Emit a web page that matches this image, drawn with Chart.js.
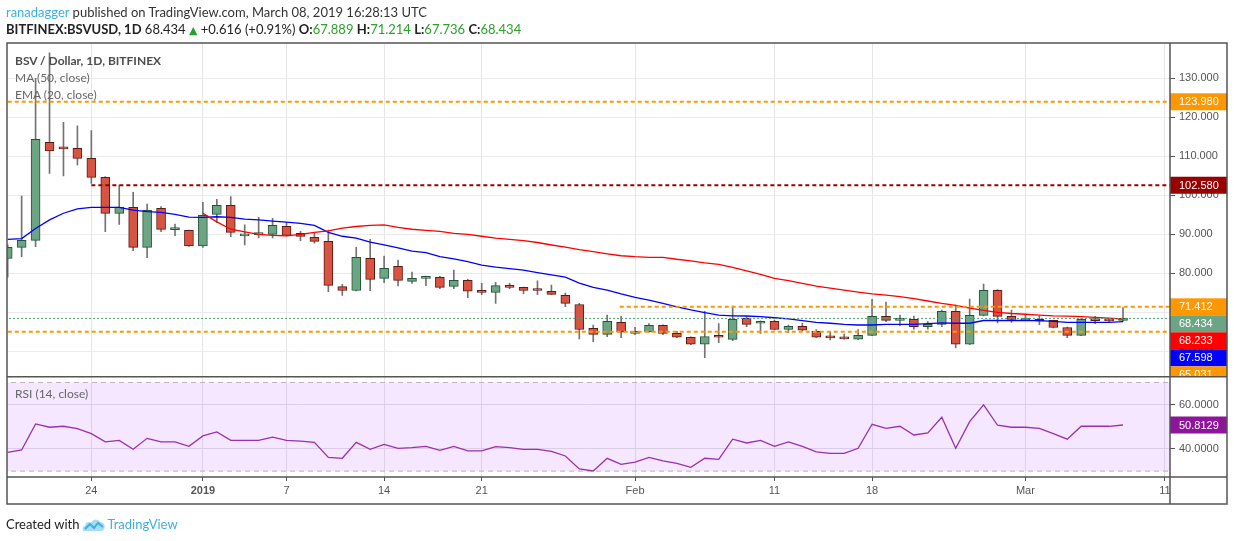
<!DOCTYPE html>
<html>
<head>
<meta charset="utf-8">
<title>BSV / Dollar, 1D, BITFINEX</title>
<script src="https://cdn.jsdelivr.net/npm/chart.js@4.4.1/dist/chart.umd.min.js"></script>
<style>
  html, body { margin: 0; padding: 0; background: #fff; }
  #wrap { position: relative; width: 1234px; height: 541px; overflow: hidden; font-family: Lato, "Liberation Sans", sans-serif; color: #333; }
  #chart { position: absolute; left: 0; top: 0; }
  .txt { position: absolute; white-space: nowrap; line-height: 1; }
  #h1 { left: 6px; top: 6px; font-size: 13px; color: #333; }
  #h1 .author { color: #3cb0e2; }
  #h2 { left: 6px; top: 23px; font-size: 13px; color: #222; }
  #h2 b { font-weight: bold; }
  #h2 .up { color: #2ca02c; }
  #h2 .tri { font-family: "DejaVu Sans", sans-serif; font-size: 11px; }
  .legend { left: 15px; font-size: 12px; color: #666; }
  .legend b { color: #4d4d4d; }
  #made { left: 6px; top: 517px; font-size: 13px; color: #222; }
  #made .tv { color: #3cb0e2; }
  #made svg { vertical-align: -4px; margin: 0 1px 0 3px; }
</style>
</head>
<body>
<div id="wrap">
  <canvas id="chart" width="1234" height="541"></canvas>
  <div class="txt" id="h1"><span class="author">ranadagger</span> published on TradingView.com, March 08, 2019 16:28:13 UTC</div>
  <div class="txt" id="h2"></div>
  <div class="txt legend" style="top:55px"><b>BSV / Dollar, 1D, BITFINEX</b></div>
  <div class="txt legend" style="top:72px">MA (50, close)</div>
  <div class="txt legend" style="top:89px">EMA (20, close)</div>
  <div class="txt legend" style="top:388px">RSI (14, close)</div>
  <div class="txt" id="made">Created with<svg width="24" height="16" viewBox="0 0 24 16"><path d="M2 14 C0 14 0 9 3 9 C3 5 7 4 9 6 C10 2 16 1 18 5 C22 5 24 9 22 12 C21 14 20 14 19 14 Z" fill="#a9dcf3"/><path d="M3 12 L8 7 L12 11 L16 6 L21 10" stroke="#3cb0e2" stroke-width="2" fill="none"/></svg><span class="tv">TradingView</span></div>
</div>
<script>
// BITFINEX:BSVUSD daily candles, index 0 = 2018-12-18 ... index 80 = 2019-03-08
const opens = [
  83.84, 86.66, 88.45, 113.58, 112.2, 112.04, 109.48, 104.6, 95.37, 96.9,
  86.66, 96.66, 91.2, 91.02, 87.0, 95.1, 97.42, 89.6, 89.9, 90.0,
  92.04, 90.25, 89.2, 88.2, 76.6, 75.6, 83.84, 78.7, 81.8, 77.94,
  78.7, 79.0, 76.66, 78.2, 75.3, 75.1, 76.9, 76.4, 75.9, 75.4,
  74.35, 72.0, 65.9, 64.35, 67.43, 64.6, 65.0, 66.66, 64.6, 63.6,
  61.8, 63.8, 63.07, 68.45, 67.2, 67.7, 65.6, 66.4, 65.1, 63.6,
  63.35, 63.1, 64.1, 69.0, 67.94, 68.2, 66.3, 66.9, 70.25, 61.8,
  69.22, 75.63, 68.96, 68.0, 68.2, 67.94, 66.1, 64.1, 68.2, 68.0,
  67.889
];
const highs = [
  87.3, 99.8, 130.0, 136.5, 118.7, 117.8, 116.6, 104.8, 102.6, 100.76,
  97.77, 97.08, 92.64, 91.1, 98.2, 98.96, 99.65, 92.4, 94.35, 94.1,
  93.07, 90.76, 90.25, 91.1, 77.2, 86.66, 88.7, 84.4, 83.4, 80.3,
  79.3, 79.2, 80.85, 78.45, 77.4, 77.7, 77.4, 76.5, 78.1, 77.0,
  74.95, 72.3, 66.7, 69.3, 68.97, 66.15, 67.1, 66.8, 65.1, 63.7,
  70.25, 67.1, 71.6, 68.9, 67.8, 68.0, 66.7, 67.2, 65.6, 65.0,
  64.4, 65.6, 73.3, 72.6, 69.3, 69.05, 67.6, 70.6, 71.87, 73.4,
  77.25, 75.8, 70.6, 69.56, 69.05, 68.0, 66.2, 68.4, 68.96, 68.45,
  71.214
];
const lows = [
  79.0, 84.27, 86.83, 105.63, 105.0, 107.8, 103.07, 90.67, 92.55, 85.8,
  84.0, 90.67, 89.65, 86.9, 86.66, 93.07, 89.4, 87.3, 89.1, 89.1,
  89.6, 88.37, 87.7, 75.3, 74.3, 75.5, 75.55, 77.6, 76.75, 77.4,
  76.8, 76.06, 76.06, 73.75, 74.5, 72.3, 76.06, 74.8, 74.5, 74.5,
  71.45, 63.2, 62.5, 63.75, 63.5, 64.27, 64.9, 64.27, 63.5, 61.7,
  58.4, 62.2, 62.7, 66.3, 64.6, 65.5, 64.8, 65.2, 63.5, 62.9,
  63.1, 63.0, 64.0, 67.6, 66.57, 65.7, 65.7, 66.3, 60.9, 61.7,
  69.1, 67.3, 67.4, 67.9, 66.8, 66.0, 63.5, 64.0, 67.1, 67.4,
  67.736
];
const closes = [
  86.66, 88.46, 114.35, 111.36, 111.9, 109.48, 104.6, 95.37, 97.0, 86.66,
  96.14, 91.27, 91.5, 87.0, 94.86, 97.42, 90.5, 90.1, 90.3, 92.3,
  89.74, 89.48, 88.2, 76.9, 75.6, 84.1, 78.45, 81.27, 78.2, 78.7,
  79.0, 76.4, 78.2, 75.4, 75.1, 76.83, 76.4, 75.6, 75.6, 74.6,
  72.3, 65.6, 64.35, 67.7, 64.9, 65.1, 66.66, 64.6, 63.6, 61.8,
  63.8, 63.6, 68.2, 66.9, 67.45, 65.6, 66.4, 65.4, 63.6, 63.45,
  63.2, 64.1, 69.0, 67.94, 68.45, 66.3, 66.9, 70.25, 61.8, 69.22,
  75.63, 68.96, 68.2, 68.1, 67.7, 66.1, 64.1, 68.2, 67.85, 67.818,
  68.434
];
const ma50 = [
  null, null, null, null, null, null, null, null, null, null,
  null, null, null, null, 95.4, 93.2, 91.3, 90.6, 90.0, 89.7,
  89.6, 90.0, 90.5, 90.9, 91.6, 92.0, 92.3, 92.4, 91.8, 91.3,
  91.0, 90.76, 90.25, 90.0, 89.5, 89.0, 88.7, 88.4, 87.9, 87.26,
  86.7, 86.05, 85.55, 85.0, 84.5, 84.26, 84.1, 84.1, 83.6, 83.2,
  82.7, 82.3, 81.5, 80.6, 79.7, 78.7, 78.1, 77.4, 76.7, 76.2,
  75.7, 75.2, 74.7, 74.4, 74.0, 73.5, 72.9, 72.3, 71.8, 71.1,
  70.5, 70.0, 69.7, 69.5, 69.3, 69.1, 69.0, 68.9, 68.7, 68.5,
  68.233
];
const ema20 = [
  88.7, 88.9, 91.5, 93.7, 95.4, 96.5, 96.9, 96.9, 96.9, 96.2,
  95.8, 95.6, 95.1, 94.4, 94.35, 94.5, 94.35, 93.9, 93.7, 93.4,
  93.1, 92.8, 92.3, 90.5, 89.5, 89.0, 88.0, 87.3, 86.5, 85.7,
  85.3, 84.3, 83.7, 83.0, 82.1, 81.6, 81.2, 80.8, 80.2, 79.6,
  79.0, 77.5, 76.4, 75.7, 74.7, 73.8, 73.1, 72.3, 71.4, 70.6,
  69.9, 69.3, 69.1, 69.05, 68.9, 68.6, 68.3, 67.85, 67.4, 67.2,
  66.9, 66.75, 66.75, 66.9, 66.9, 66.9, 67.1, 67.3, 67.2, 67.2,
  67.9, 67.9, 67.9, 67.9, 67.85, 67.7, 67.4, 67.4, 67.4, 67.4,
  67.598
];
const rsi14 = [
  38.5, 39.55, 51.3, 49.8, 50.24, 49.2, 46.9, 43.2, 43.9, 39.85,
  44.8, 43.2, 43.2, 41.2, 45.9, 47.7, 43.9, 43.9, 43.9, 45.3,
  43.9, 43.5, 43.0, 36.2, 35.8, 43.0, 39.85, 42.1, 40.3, 40.6,
  41.2, 39.4, 41.2, 39.1, 39.1, 41.06, 40.6, 39.85, 39.85, 38.95,
  36.85, 31.0, 30.07, 35.8, 33.1, 34.1, 36.2, 34.6, 33.5, 31.7,
  35.8, 35.3, 44.4, 42.7, 43.9, 41.2, 43.2, 41.2, 38.65, 38.05,
  38.05, 40.3, 51.15, 49.3, 50.24, 46.3, 47.2, 54.3, 40.3, 52.3,
  59.9, 50.7, 49.8, 49.8, 49.3, 46.9, 44.4, 50.24, 50.24, 50.24,
  50.8129
];

// drawn horizontal levels and the day index where each one starts
const levelValues = [123.98, 102.58, 71.412, 65.031];
const levelStarts = [-1, 6, 43.9, -1];
const levelColors = ['#ff9800', '#990000', '#ff9800', '#ff9800'];

const priceTicks = [60, 70, 80, 90, 100, 110, 120, 130];
const rsiTicks = [40, 60];
const rsiBands = [70, 30];
const dayTicks = [6, 14, 20, 27, 34, 45, 55, 62, 73, 83];
const dayTickLabels = ['24', '2019', '7', '14', '21', 'Feb', '11', '18', 'Mar', '11'];

// view
const X_MIN = -0.05, X_MAX = 83.37;
const UP = '#6ba583', UP_BORDER = '#225437';
const DOWN = '#d75442', DOWN_BORDER = '#5b1a13';
const WICK = '#737375';
const MA_COLOR = '#ff0000', EMA_COLOR = '#0000ff', RSI_COLOR = '#9b2fae';

const last = closes.length - 1;
const idx = closes.map((c, i) => i);
const isUp = idx.map(i => closes[i] >= opens[i]);

// header line from the last candle
(function() {
  const chg = closes[last] - closes[last - 1];
  const pct = chg / closes[last - 1] * 100;
  const s = chg >= 0 ? '+' : '';
  const f = v => v.toFixed(3);
  document.getElementById('h2').innerHTML =
    '<b>BITFINEX:BSVUSD, 1D</b> ' + f(closes[last]) + ' <span class="up tri">&#9650;</span> ' +
    s + f(chg) + ' (' + s + pct.toFixed(2) + '%) ' +
    '<b>O:</b><span class="up">' + f(opens[last]) + '</span> ' +
    '<b>H:</b><span class="up">' + f(highs[last]) + '</span> ' +
    '<b>L:</b><span class="up">' + f(lows[last]) + '</span> ' +
    '<b>C:</b><span class="up">' + f(closes[last]) + '</span>';
})();

const datasets = [];

// candles: wicks behind bodies
datasets.push({
  type: 'bar', label: 'wick', yAxisID: 'y', order: 3, grouped: false,
  data: idx.map(i => ({ x: i, y: [lows[i], highs[i]] })),
  backgroundColor: WICK, borderWidth: 0, barThickness: 1
});
datasets.push({
  type: 'bar', label: 'body', yAxisID: 'y', order: 2, grouped: false,
  data: idx.map(i => ({ x: i, y: [opens[i], closes[i]] })),
  backgroundColor: isUp.map(u => u ? UP : DOWN),
  borderColor: isUp.map(u => u ? UP_BORDER : DOWN_BORDER),
  borderWidth: 1, borderSkipped: false, barThickness: 9, minBarLength: 2
});

// moving averages
datasets.push({
  type: 'line', label: 'MA (50, close)', yAxisID: 'y', order: 1,
  data: idx.map(i => ({ x: i, y: ma50[i] })),
  borderColor: MA_COLOR, borderWidth: 1.3, pointRadius: 0, tension: 0
});
datasets.push({
  type: 'line', label: 'EMA (20, close)', yAxisID: 'y', order: 1,
  data: idx.map(i => ({ x: i, y: ema20[i] })),
  borderColor: EMA_COLOR, borderWidth: 1.3, pointRadius: 0, tension: 0
});

// horizontal levels
levelValues.forEach((v, k) => {
  datasets.push({
    type: 'line', label: 'level ' + v, yAxisID: 'y', order: 0,
    data: [{ x: levelStarts[k], y: v }, { x: X_MAX + 1, y: v }],
    borderColor: levelColors[k], borderWidth: 2, borderDash: [4, 3], pointRadius: 0
  });
});

// last price line
datasets.push({
  type: 'line', label: 'last', yAxisID: 'y', order: 0,
  data: [{ x: X_MIN - 1, y: closes[last] }, { x: X_MAX + 1, y: closes[last] }],
  borderColor: '#4e9d6f', borderWidth: 1, borderDash: [2, 2], pointRadius: 0
});

// RSI pane: band lines with fill between, then RSI
datasets.push({
  type: 'line', label: 'band hi', yAxisID: 'yr', order: 5,
  data: [{ x: X_MIN - 1, y: rsiBands[0] }, { x: X_MAX + 1, y: rsiBands[0] }],
  borderColor: '#b9b0c2', borderWidth: 1, borderDash: [5, 4], pointRadius: 0
});
datasets.push({
  type: 'line', label: 'band lo', yAxisID: 'yr', order: 5,
  data: [{ x: X_MIN - 1, y: rsiBands[1] }, { x: X_MAX + 1, y: rsiBands[1] }],
  borderColor: '#b9b0c2', borderWidth: 1, borderDash: [5, 4], pointRadius: 0,
  fill: '-1', backgroundColor: 'rgba(153, 21, 255, 0.1)'
});
datasets.push({
  type: 'line', label: 'RSI (14, close)', yAxisID: 'yr', order: 0,
  data: idx.map(i => ({ x: i, y: rsi14[i] })),
  borderColor: RSI_COLOR, borderWidth: 1.3, pointRadius: 0, tension: 0
});

function drawTag(ctx, x0, x1, yc, h, bg, text) {
  ctx.fillStyle = bg;
  ctx.fillRect(x0, yc - h / 2, x1 - x0, h);
  ctx.fillStyle = '#fff';
  ctx.textBaseline = 'middle';
  ctx.textAlign = 'left';
  ctx.fillText(text, x0 + 9, yc + 0.5);
}

// price tags on the axes and the frame lines
const framePlugin = {
  id: 'frame',
  afterDraw(chart) {
    const ctx = chart.ctx;
    const a = chart.chartArea;
    const y = chart.scales.y, yr = chart.scales.yr, x = chart.scales.x;
    const TAG_H = 17;

    const tags = levelValues.map((v, k) => ({ v: v, bg: levelColors[k], t: v.toFixed(3) }));
    tags.push({ v: closes[last], bg: isUp[last] ? UP : DOWN, t: closes[last].toFixed(3) });
    tags.push({ v: ma50[last], bg: MA_COLOR, t: ma50[last].toFixed(3) });
    tags.push({ v: ema20[last], bg: EMA_COLOR, t: ema20[last].toFixed(3) });
    tags.sort((p, q) => q.v - p.v);

    ctx.save();
    ctx.font = '11px "Liberation Sans", Arial, sans-serif';
    ctx.beginPath();
    ctx.rect(y.left, y.top, y.right - y.left, y.bottom - y.top);
    ctx.clip();
    let prev = -Infinity;
    tags.forEach(tg => {
      let yc = y.getPixelForValue(tg.v);
      if (yc < prev + TAG_H) yc = prev + TAG_H;
      prev = yc;
      drawTag(ctx, y.left, y.right, yc, TAG_H, tg.bg, tg.t);
    });
    ctx.restore();

    ctx.save();
    ctx.font = '11px "Liberation Sans", Arial, sans-serif';
    drawTag(ctx, yr.left, yr.right, yr.getPixelForValue(rsi14[last]), TAG_H, '#8e1599', rsi14[last].toFixed(4));
    ctx.restore();

    ctx.save();
    ctx.strokeStyle = '#555';
    ctx.lineWidth = 1.5;
    const L = a.left, R = y.right, T = a.top, B = x.bottom;
    ctx.strokeRect(L, T, R - L, B - T);
    ctx.beginPath();
    ctx.moveTo(L, y.bottom); ctx.lineTo(R, y.bottom);
    ctx.moveTo(L, a.bottom); ctx.lineTo(R, a.bottom);
    ctx.moveTo(a.right, T); ctx.lineTo(a.right, B);
    ctx.stroke();
    ctx.restore();
  }
};

Chart.defaults.font.family = '"Liberation Sans", Arial, sans-serif';
Chart.defaults.font.size = 11;
Chart.defaults.color = '#555';

new Chart(document.getElementById('chart'), {
  type: 'line',
  data: { datasets: datasets },
  options: {
    responsive: false,
    animation: false,
    layout: { padding: { left: 7, top: 43, right: 7, bottom: 37 } },
    plugins: { legend: { display: false }, tooltip: { enabled: false } },
    scales: {
      x: {
        type: 'linear', min: X_MIN, max: X_MAX, offset: false,
        afterBuildTicks: s => { s.ticks = dayTicks.map(v => ({ value: v })); },
        afterFit: s => { s.height = 27; },
        grid: { color: '#e6e6e6', tickColor: '#555', tickLength: 4, offset: false },
        border: { display: false },
        ticks: {
          autoSkip: false, maxRotation: 0, padding: 3, color: '#555',
          callback: (v, i) => dayTickLabels[i],
          font: c => ({ size: 11, weight: dayTickLabels[c.index] === '2019' ? 'bold' : 'normal' })
        }
      },
      y: {
        type: 'linear', position: 'right', stack: 'pane', stackWeight: 333.7,
        min: 53.49, max: 139.05,
        afterBuildTicks: s => { s.ticks = priceTicks.map(v => ({ value: v })); },
        afterFit: s => { s.width = 57; },
        grid: { color: '#ebebeb', tickColor: '#555', tickLength: 5 },
        border: { display: false },
        ticks: { padding: 4, color: '#555', callback: v => v.toFixed(3) }
      },
      yr: {
        type: 'linear', position: 'right', stack: 'pane', stackWeight: 100.3,
        min: 27.36, max: 72.6,
        afterBuildTicks: s => { s.ticks = rsiTicks.map(v => ({ value: v })); },
        afterFit: s => { s.width = 57; },
        grid: { color: '#e3e3e3', tickColor: '#555', tickLength: 5 },
        border: { display: false },
        ticks: { padding: 4, color: '#555', callback: v => v.toFixed(4) }
      }
    }
  },
  plugins: [framePlugin]
});
</script>
</body>
</html>
